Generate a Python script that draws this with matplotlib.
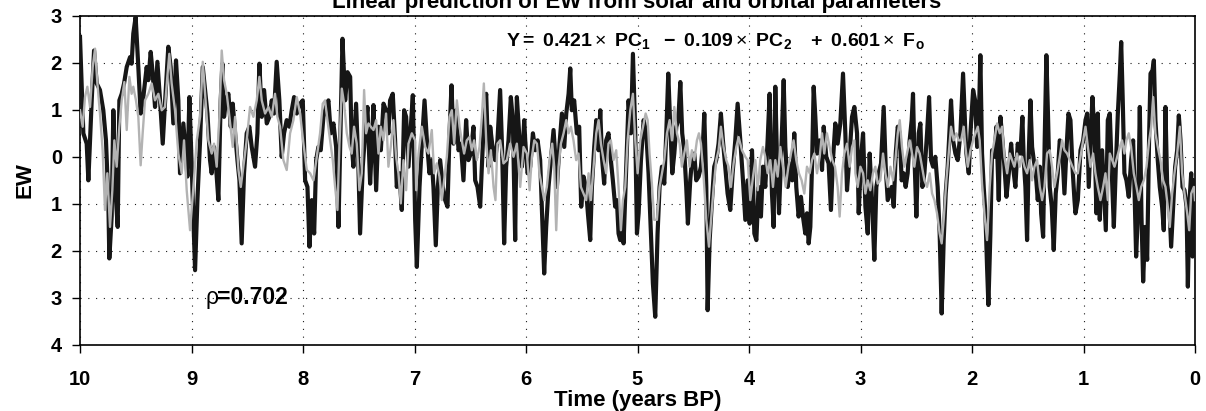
import matplotlib
matplotlib.use("Agg")
import matplotlib.pyplot as plt
import numpy as np

# ---------------- data ----------------
# observed EW (black)
t_black = [10.000, 9.970, 9.940, 9.925, 9.895, 9.874, 9.850, 9.821, 9.791, 9.767, 9.746, 9.737, 9.716, 9.701, 9.677, 9.662, 9.647, 9.626, 9.605, 9.581, 9.551, 9.537, 9.522, 9.501, 9.477, 9.456, 9.432, 9.402, 9.387, 9.366, 9.348, 9.327, 9.306, 9.282, 9.258, 9.238, 9.208, 9.187, 9.163, 9.139, 9.118, 9.103, 9.073, 9.049, 9.037, 9.019, 8.998, 8.968,
           8.947, 8.923, 8.899, 8.878, 8.857, 8.834, 8.819, 8.798, 8.780, 8.759, 8.738, 8.723, 8.708, 8.690, 8.669, 8.648, 8.630, 8.609, 8.588, 8.570, 8.550, 8.529, 8.505, 8.481, 8.460, 8.430, 8.409, 8.391, 8.370, 8.349, 8.325, 8.301, 8.280, 8.260, 8.236, 8.212, 8.191, 8.170, 8.146, 8.122, 8.101, 8.080, 8.056, 8.026, 8.002, 7.981,
           7.960, 7.942, 7.921, 7.900, 7.882, 7.862, 7.841, 7.817, 7.793, 7.772, 7.751, 7.727, 7.703, 7.682, 7.661, 7.646, 7.622, 7.601, 7.577, 7.563, 7.548, 7.524, 7.503, 7.488, 7.464, 7.443, 7.422, 7.398, 7.383, 7.368, 7.344, 7.323, 7.302, 7.278, 7.255, 7.234, 7.219, 7.195, 7.174, 7.159, 7.135, 7.114, 7.093, 7.075, 7.054, 7.033, 7.015,
           6.994, 6.979, 6.955, 6.934, 6.910, 6.889, 6.866, 6.845, 6.830, 6.809, 6.791, 6.770, 6.746, 6.725, 6.704, 6.686, 6.668, 6.650, 6.626, 6.605, 6.584, 6.561, 6.537, 6.516, 6.495, 6.471, 6.456, 6.435, 6.411, 6.396, 6.375, 6.357, 6.336, 6.321, 6.297, 6.277, 6.256, 6.232, 6.214, 6.196, 6.178, 6.157, 6.136, 6.118, 6.097, 6.082, 6.058, 6.037, 6.016,
           6.007, 5.986, 5.962, 5.938, 5.917, 5.896, 5.873, 5.858, 5.837, 5.819, 5.798, 5.777, 5.753, 5.735, 5.723, 5.699, 5.678, 5.657, 5.639, 5.618, 5.603, 5.589, 5.568, 5.544, 5.523, 5.505, 5.484, 5.463, 5.445, 5.424, 5.409, 5.388, 5.370, 5.349, 5.334, 5.319, 5.299, 5.281, 5.260, 5.239, 5.221, 5.200, 5.185, 5.170, 5.155, 5.140, 5.125, 5.101, 5.080, 5.059, 5.041,
           5.020, 5.005, 4.990, 4.969, 4.945, 4.921, 4.901, 4.880, 4.862, 4.841, 4.820, 4.802, 4.781, 4.760, 4.742, 4.724, 4.706, 4.688, 4.670, 4.652, 4.634, 4.616, 4.599, 4.581, 4.563, 4.548, 4.527, 4.509, 4.491, 4.473, 4.452, 4.431, 4.413, 4.401, 4.383, 4.371, 4.353, 4.332, 4.312, 4.294, 4.273, 4.252, 4.234, 4.213, 4.192, 4.168, 4.147, 4.123, 4.102, 4.078, 4.054, 4.033,
           4.012, 3.994, 3.973, 3.952, 3.934, 3.914, 3.893, 3.875, 3.854, 3.833, 3.815, 3.794, 3.779, 3.764, 3.749, 3.731, 3.713, 3.689, 3.674, 3.653, 3.629, 3.612, 3.594, 3.576, 3.555, 3.534, 3.516, 3.495, 3.480, 3.465, 3.450, 3.435, 3.420, 3.405, 3.390, 3.366, 3.345, 3.330, 3.307, 3.286, 3.265, 3.247, 3.226, 3.205, 3.181, 3.157, 3.136, 3.121, 3.097, 3.076, 3.055,
           3.031, 3.016, 2.995, 2.977, 2.956, 2.935, 2.918, 2.897, 2.876, 2.858, 2.837, 2.816, 2.792, 2.774, 2.756, 2.738, 2.720, 2.702, 2.684, 2.666, 2.648, 2.631, 2.613, 2.595, 2.577, 2.559, 2.541, 2.529, 2.517, 2.499, 2.478, 2.463, 2.445, 2.427, 2.403, 2.385, 2.367, 2.349, 2.329, 2.308, 2.290, 2.272, 2.254, 2.236, 2.218, 2.200, 2.188, 2.170, 2.149, 2.128, 2.104, 2.080, 2.059,
           2.050, 2.029, 2.014, 1.990, 1.972, 1.954, 1.940, 1.925, 1.910, 1.895, 1.880, 1.865, 1.853, 1.835, 1.820, 1.799, 1.781, 1.760, 1.745, 1.727, 1.709, 1.691, 1.670, 1.649, 1.632, 1.611, 1.590, 1.566, 1.548, 1.536, 1.521, 1.506, 1.491, 1.476, 1.461, 1.446, 1.428, 1.410, 1.392, 1.380, 1.362, 1.348, 1.333, 1.318, 1.303, 1.285, 1.267, 1.249, 1.231, 1.213, 1.192, 1.171, 1.153, 1.135, 1.117, 1.099, 1.081,
           1.072, 1.051, 1.027, 1.003, 0.982, 0.967, 0.953, 0.938, 0.920, 0.902, 0.884, 0.872, 0.854, 0.833, 0.818, 0.800, 0.782, 0.764, 0.746, 0.728, 0.710, 0.692, 0.674, 0.662, 0.648, 0.633, 0.615, 0.594, 0.573, 0.555, 0.543, 0.528, 0.510, 0.495, 0.480, 0.465, 0.447, 0.429, 0.411, 0.399, 0.381, 0.369, 0.355, 0.334, 0.316, 0.295, 0.280, 0.265, 0.250, 0.232, 0.214, 0.196, 0.178, 0.160, 0.145, 0.130, 0.112, 0.094, 0.076, 0.064, 0.049, 0.034, 0.022, 0.010, 0.000]
ew_black = [2.55, 0.50, 0.28, -0.50, 1.20, 2.26, 1.56, 1.42, 0.99, 0.35, -0.92, -2.16, -1.27, 0.99, -0.92, -1.49, 1.20, 1.34, 1.56, 1.91, 2.12, 1.98, 2.62, 2.97, 1.91, 0.92, 1.27, 1.91, 1.63, 2.23, 1.77, 1.06, 2.02, 1.20, 0.28, 1.13, 2.34, 1.91, 0.71, 2.05, 1.20, -0.35, 0.71, 0.00, -0.42, 1.27, -0.21, -2.41,
            -0.92, 0.35, 1.91, 1.42, 0.92, -0.07, -0.35, 0.21, -0.21, -0.92, 1.20, 1.98, 0.85, 1.20, 1.34, 0.64, 1.13, 0.50, -0.07, -0.50, -1.84, -0.35, 0.50, 0.64, 0.21, -0.21, 0.50, 1.98, 0.85, 1.42, 0.71, 0.85, 1.20, 0.92, 2.02, 1.20, 0.00, 0.50, 0.78, 0.64, 0.99, 1.27, 0.92, 1.13, 1.20, -0.50,
            -0.64, -1.91, -0.92, -1.63, -0.07, 0.21, 0.14, 0.85, 1.06, 1.20, 0.50, 0.71, 0.21, -1.49, 0.85, 2.51, 1.20, 1.80, 1.70, 0.28, -0.21, 1.13, -0.21, -1.63, -0.21, 0.50, 1.06, -0.57, 0.21, 1.10, -0.71, 0.64, 0.14, 1.13, 0.99, 0.50, 1.20, 1.34, 0.35, -0.64, -0.35, -1.13, 0.99, 0.85, -0.21, 0.64, 1.31,
            -1.34, -2.34, -0.64, 0.28, 1.20, 0.35, -0.35, -0.07, -0.64, -1.88, -0.64, -0.07, -0.64, -0.92, -1.06, 0.50, 1.52, 0.28, 0.99, 0.14, 0.28, -0.50, 0.78, -0.07, 0.07, 0.64, -0.50, -0.64, -1.06, -0.21, 0.92, 1.34, -0.21, 0.64, 0.14, -0.07, 0.35, 1.42, 0.14, -1.84, -0.21, 0.35, 1.27, 0.78, -1.77, 1.27, 0.35, -0.21, 0.78,
            0.35, -0.35, -0.21, 0.50, 0.14, 0.35, -0.07, -1.06, -2.48, -1.49, -0.64, -0.07, 0.57, -0.07, -0.64, 0.28, 0.92, 0.21, 0.92, 1.34, 1.88, 0.99, 1.20, 0.50, 0.64, -1.06, -0.42, -0.64, -1.20, -1.77, -0.64, 0.21, 0.78, 0.14, 0.99, 0.00, -0.57, 0.35, 0.50, -0.07, -0.50, -1.06, -0.92, -1.63, -1.77, -1.20, -1.84, -0.21, 1.20, 0.50, 2.19,
            0.50, -1.63, -1.20, -0.07, 0.78, 0.50, -0.35, -1.63, -2.69, -3.40, -1.63, -0.64, -0.21, -0.57, 0.50, 1.77, 0.64, -0.35, 0.07, 0.64, 0.78, 1.59, 0.50, 0.14, -0.64, -1.42, -0.50, 0.00, 0.07, -0.50, -0.42, -0.21, 0.28, 0.92, -0.64, -3.26, -1.77, -0.92, -0.21, -0.07, 0.28, 0.92, 0.35, -0.21, -0.78, -1.13, -0.35, 0.35, 1.13, 0.35, -0.50, -1.34,
            -0.50, -1.42, 0.14, -1.63, -1.77, -0.64, -1.27, -0.21, -0.64, 0.35, 1.34, -0.78, -1.49, 1.49, -0.07, -1.20, -0.07, 1.63, 0.21, -0.64, -0.14, -0.50, 0.50, -0.64, -1.27, -0.85, -1.27, -1.63, -1.20, -1.84, -1.49, -0.21, 1.49, 0.85, 0.07, 0.35, -0.28, 0.64, 0.00, -0.14, -1.13, -0.07, 0.71, 0.28, 0.71, 1.77, 0.50, -0.71, 0.07, 0.85, 1.06,
            0.50, -1.20, 0.00, 0.50, -1.06, -1.63, 0.07, -0.92, -2.19, -0.64, -0.35, -0.14, 1.06, -0.21, -0.92, -0.78, -0.64, -1.06, 0.07, 0.64, 0.50, -0.50, -0.35, -0.64, -0.35, 0.35, 0.78, 1.34, 0.07, -1.27, 0.50, 0.71, -0.64, -0.35, 0.50, 1.27, -0.07, -0.21, 0.00, -0.64, -1.63, -3.33, -1.77, -0.78, -0.21, 0.64, 1.20, 0.35, 0.07, -0.07, 0.50, 1.77, 0.50,
            0.07, -0.35, 0.50, 1.42, 1.20, 0.21, 0.64, 2.16, 0.07, -0.64, -1.20, -2.34, -3.15, -1.63, 0.14, 0.00, 0.64, -0.92, 0.85, 0.35, -0.21, -0.85, -0.35, 0.28, -0.21, -0.64, 0.28, 0.07, 0.85, -0.07, -0.64, -1.77, 0.07, 1.20, 0.21, -0.07, -0.35, -0.92, -0.21, -1.20, -1.70, 0.35, 2.16, 0.85, -0.64, -1.06, -1.98, -0.78, -0.35, 0.35, 0.21, -0.78, 0.14, 0.92, 0.78, -0.21, -0.92,
            -1.20, -0.92, 0.14, 0.35, 0.78, 0.92, -0.64, 0.21, 1.27, 0.50, -1.20, 0.92, -1.34, 0.14, -0.64, -1.56, 0.78, 0.92, -0.35, -1.49, -0.21, 0.92, 1.77, 2.44, 1.20, -0.35, -0.50, -0.85, -0.07, 0.35, -0.64, -2.12, -1.06, 1.06, -1.27, -2.65, -1.49, -2.19, 0.50, 1.77, 1.84, 2.05, 0.78, -0.07, -0.64, -1.06, -1.56, 1.06, -0.57, -0.92, -1.91, -1.06, -0.21, 0.14, 0.88, 0.35, -0.64, -0.71, -1.06, -2.76, -0.92, -0.35, -2.12, -0.50, -0.64]

# linear prediction (gray)
t_pred = [10.000, 9.976, 9.955, 9.934, 9.910, 9.886, 9.865, 9.844, 9.821, 9.797, 9.776, 9.755, 9.731, 9.710, 9.692, 9.671, 9.647, 9.626, 9.602, 9.581, 9.557, 9.537, 9.522, 9.498, 9.477, 9.456, 9.438, 9.417, 9.387, 9.357, 9.327, 9.297, 9.267, 9.238, 9.217, 9.199, 9.178, 9.148, 9.118, 9.088, 9.067, 9.043, 9.013, 8.983,
          8.953, 8.923, 8.899, 8.878, 8.849, 8.819, 8.798, 8.774, 8.750, 8.729, 8.708, 8.684, 8.660, 8.630, 8.609, 8.579, 8.558, 8.535, 8.505, 8.475, 8.445, 8.415, 8.391, 8.370, 8.340, 8.310, 8.280, 8.251, 8.230, 8.206, 8.176, 8.146, 8.116, 8.086, 8.056, 8.026, 7.996,
          7.966, 7.936, 7.906, 7.876, 7.847, 7.823, 7.802, 7.781, 7.757, 7.733, 7.712, 7.691, 7.673, 7.652, 7.631, 7.607, 7.583, 7.563, 7.542, 7.518, 7.494, 7.473, 7.452, 7.434, 7.413, 7.392, 7.368, 7.344, 7.323, 7.302, 7.278, 7.255, 7.234, 7.213, 7.189, 7.165, 7.144, 7.123, 7.099, 7.075, 7.054, 7.024, 6.994,
          6.985, 6.964, 6.934, 6.904, 6.875, 6.845, 6.824, 6.800, 6.776, 6.755, 6.731, 6.710, 6.686, 6.665, 6.644, 6.620, 6.596, 6.576, 6.555, 6.531, 6.507, 6.486, 6.465, 6.441, 6.417, 6.396, 6.378, 6.357, 6.336, 6.315, 6.291, 6.274, 6.256, 6.232, 6.202, 6.172, 6.142, 6.112, 6.082, 6.052, 6.022,
          5.992, 5.968, 5.947, 5.926, 5.902, 5.879, 5.858, 5.837, 5.813, 5.789, 5.765, 5.747, 5.729, 5.708, 5.687, 5.663, 5.639, 5.618, 5.597, 5.574, 5.550, 5.529, 5.508, 5.484, 5.460, 5.439, 5.418, 5.394, 5.370, 5.349, 5.328, 5.304, 5.281, 5.260, 5.239, 5.215, 5.191, 5.170, 5.149, 5.131, 5.110, 5.089, 5.065, 5.041, 5.020,
          4.999, 4.975, 4.951, 4.927, 4.909, 4.892, 4.871, 4.850, 4.826, 4.802, 4.781, 4.760, 4.736, 4.712, 4.691, 4.670, 4.646, 4.622, 4.602, 4.581, 4.557, 4.533, 4.512, 4.491, 4.467, 4.449, 4.431, 4.407, 4.383, 4.359, 4.338, 4.317, 4.294, 4.273, 4.252, 4.228, 4.204, 4.183, 4.162, 4.138, 4.114, 4.093, 4.063, 4.033,
          4.012, 3.988, 3.964, 3.943, 3.922, 3.899, 3.875, 3.854, 3.833, 3.809, 3.785, 3.764, 3.743, 3.719, 3.695, 3.671, 3.647, 3.623, 3.600, 3.576, 3.552, 3.528, 3.504, 3.480, 3.456, 3.435, 3.414, 3.390, 3.366, 3.345, 3.325, 3.301, 3.277, 3.253, 3.229, 3.205, 3.187, 3.166, 3.145, 3.121, 3.097, 3.076, 3.055,
          3.046, 3.025, 3.001, 2.977, 2.956, 2.935, 2.912, 2.888, 2.867, 2.846, 2.822, 2.798, 2.777, 2.756, 2.732, 2.708, 2.687, 2.666, 2.648, 2.628, 2.607, 2.583, 2.559, 2.538, 2.517, 2.493, 2.469, 2.448, 2.427, 2.403, 2.379, 2.358, 2.337, 2.314, 2.290, 2.272, 2.254, 2.230, 2.209, 2.188, 2.164, 2.140, 2.119, 2.098, 2.074,
          2.059, 2.038, 2.014, 1.990, 1.969, 1.948, 1.931, 1.910, 1.889, 1.865, 1.841, 1.820, 1.799, 1.775, 1.751, 1.730, 1.709, 1.685, 1.661, 1.640, 1.620, 1.596, 1.572, 1.551, 1.530, 1.506, 1.482, 1.461, 1.440, 1.416, 1.392, 1.371, 1.350, 1.327, 1.303, 1.282, 1.261, 1.237, 1.213, 1.192, 1.171, 1.147, 1.123, 1.099, 1.072,
          1.051, 1.027, 1.003, 0.982, 0.961, 0.938, 0.914, 0.893, 0.872, 0.848, 0.824, 0.803, 0.782, 0.764, 0.743, 0.722, 0.698, 0.674, 0.654, 0.633, 0.615, 0.594, 0.573, 0.549, 0.525, 0.504, 0.483, 0.459, 0.435, 0.411, 0.393, 0.375, 0.355, 0.334, 0.310, 0.286, 0.265, 0.244, 0.226, 0.205, 0.184, 0.160, 0.136, 0.115, 0.094, 0.070, 0.052, 0.034, 0.010, 0.000]
ew_pred = [0.99, 0.64, 1.27, 1.49, 1.06, 1.91, 2.30, 1.56, 0.92, 0.14, -1.13, -0.35, -1.49, -0.71, 0.35, -0.21, 0.64, 1.20, 1.59, 0.57, 1.70, 1.34, 1.49, 1.20, 0.85, -0.18, 0.50, 1.20, 1.34, 1.56, 1.20, 1.34, 0.99, 1.06, 1.70, 2.19, 1.56, 0.99, 0.07, -0.35, 0.35, -0.71, -1.56, -0.64,
           0.35, 0.85, 2.02, 1.34, 0.35, 0.07, 0.28, -0.21, 0.85, 2.26, 1.63, 1.34, 0.85, 0.21, 0.85, -0.28, -0.64, -0.21, 0.35, 1.06, 0.85, 1.20, 1.70, 1.20, 0.92, 1.06, 0.85, 1.34, 0.85, 0.64, -0.07, -0.28, 0.50, 0.78, 1.27, 0.92, 0.28,
           -0.28, -0.35, -0.50, 0.00, 0.50, 1.13, 1.20, 0.78, 0.35, -0.07, -0.64, -1.13, 0.28, 1.45, 1.13, 0.50, 0.21, 0.07, 0.64, 0.28, -0.71, -0.35, 1.42, 0.50, 0.71, 0.64, 0.57, 0.78, 0.07, 0.64, 0.35, 0.92, -0.21, 0.21, 0.78, 0.00, -0.35, -0.99, -0.07, -0.71, 0.28, 0.50, 0.35,
           -0.71, 0.07, 0.64, 0.21, 0.07, 0.57, -0.35, -0.14, -0.42, -0.92, -0.42, 0.00, 0.85, 0.99, 0.28, 1.20, 0.64, 0.35, 0.07, 0.35, 0.42, 0.14, 0.35, -0.07, 0.21, 0.85, 1.56, 0.35, -0.35, 0.14, -0.64, -0.92, 0.28, 0.35, -0.14, -0.07, 0.28, 0.00, 0.28, -0.64, 0.21,
           0.07, -0.71, 0.00, 0.35, 0.28, -0.35, -0.64, -0.92, -0.64, -0.07, 0.28, -0.21, -1.56, -0.21, 0.28, 0.50, 0.78, 0.50, 0.64, 0.35, -0.07, 0.07, -0.64, -0.78, -0.92, -0.35, -0.92, -0.21, 0.50, 0.78, 0.28, -0.07, -0.35, 0.28, 0.35, -0.07, 0.14, -0.64, -1.56, -0.92, -0.64, 0.35, 0.99, 1.34, 0.35,
           -0.35, 0.35, 0.64, 0.92, 0.78, 0.07, -0.57, -1.34, -1.34, -0.64, -0.35, -0.07, 0.50, 0.78, 0.35, 1.06, 0.50, 0.28, -0.21, 0.07, 0.35, -0.21, 0.14, -0.07, 0.35, 0.50, 0.28, -0.42, -1.34, -1.91, -1.27, -0.64, -0.07, 0.14, 0.64, 0.21, -0.07, -0.21, -0.64, -0.14, 0.21, 0.42, 0.14, 0.00,
           -0.07, -0.92, -0.42, -0.07, -0.71, -0.07, 0.21, 0.00, -0.35, -0.07, -0.64, -0.07, -0.42, 0.21, -0.21, -0.64, -0.21, 0.07, 0.35, -0.07, -0.35, -0.50, -0.78, -0.21, -0.35, -0.07, 0.07, -0.35, 0.00, 0.50, 0.07, 0.50, 0.21, -0.07, -0.21, -0.64, -1.27, -0.35, 0.07, 0.28, -0.21, 0.21, 0.35,
           -0.35, -0.64, -0.21, -0.35, -0.78, -0.50, -0.71, -0.35, -0.21, -0.57, -0.50, 0.07, -0.35, -0.64, -0.21, -0.50, -0.07, 0.50, 0.78, 0.21, -0.21, 0.07, 0.35, 0.07, -0.21, 0.21, 0.07, -0.21, -0.50, -0.64, -0.35, -0.78, -0.92, -1.20, -1.63, -1.84, -1.34, -0.50, 0.07, 0.64, 0.35, 0.50, 0.35, 0.35, 0.64,
           0.21, -0.21, 0.14, 0.35, 0.50, 0.64, 0.35, -0.57, -1.20, -1.77, -0.64, 0.07, 0.35, 0.71, 0.50, 0.64, 0.00, -0.35, 0.07, -0.07, -0.21, 0.07, -0.21, 0.00, -0.21, -0.35, -0.07, -0.50, -0.21, -0.07, -0.64, -0.92, -0.64, 0.07, 0.14, -0.21, -0.64, -0.35, 0.00, 0.35, 0.14, 0.07, -0.07, -0.21, -0.35,
           -0.35, 0.00, 0.35, 0.64, 0.21, -0.21, 0.07, -0.35, -0.64, -0.92, -0.64, -0.35, -0.92, 0.07, -0.07, -0.21, 0.00, 0.21, 0.35, 0.07, 0.35, 0.50, 0.21, -0.35, -0.64, -0.92, -0.64, -0.50, -0.21, 0.35, 0.64, 1.27, 0.50, 0.21, -0.07, -0.50, -0.64, -1.06, -1.49, -0.78, -0.35, 0.07, 0.64, -0.35, -0.78, -1.20, -1.56, -0.78, -0.64, -0.92]

x_ticks = [10, 9, 8, 7, 6, 5, 4, 3, 2, 1, 0]
y_ticks = [-4, -3, -2, -1, 0, 1, 2, 3]
y_tick_labels = ["4", "3", "2", "1", "0", "1", "2", "3"]

title = "Linear prediction of EW from solar and orbital parameters"
equation = (r"$\mathbf{Y=\ 0.421}\times\ \mathbf{PC_1\ \ -\ 0.109}\times\ "
            r"\mathbf{PC_2\ \ \ +\ 0.601}\times\ \mathbf{F_o}$")
rho_value = "=0.702"

assert len(t_black) == len(ew_black)
assert len(t_pred) == len(ew_pred)

# ---------------- styling ----------------
FONT = "Liberation Sans"
plt.rcParams["font.family"] = [FONT, "DejaVu Sans"]
plt.rcParams["mathtext.fontset"] = "custom"
plt.rcParams["mathtext.rm"] = FONT
plt.rcParams["mathtext.bf"] = FONT + ":bold"
plt.rcParams["mathtext.it"] = FONT + ":italic"

fig = plt.figure(figsize=(12.06, 4.11), dpi=100)
W, H = 1206, 411
ax = fig.add_axes([80 / W, 1 - 345 / H, (1195 - 80) / W, (345 - 15.7) / H])

ax.plot(t_black, ew_black, color="#161616", lw=3.0, solid_joinstyle="round", zorder=3)
ax.plot(t_pred, ew_pred, color="#b3b3b3", lw=1.7, solid_joinstyle="round", zorder=4)

ax.set_xlim(10, 0)
ax.set_ylim(-4, 3)
ax.set_xticks(x_ticks)
ax.set_xticklabels([str(v) for v in x_ticks])
ax.set_yticks(y_ticks)
ax.set_yticklabels(y_tick_labels)
ax.tick_params(direction="out", length=6, width=1.0, labelsize=14.5)
ax.tick_params(axis="x", pad=12)
ax.tick_params(axis="y", pad=7)
for lab in ax.get_xticklabels() + ax.get_yticklabels():
    lab.set_fontweight("bold")
ax.grid(True, linestyle=(0, (1, 6)), color="k", lw=0.8, alpha=0.9)
for s in ax.spines.values():
    s.set_linewidth(1.2)

ax.set_xlabel("Time (years BP)", fontsize=16, fontweight="bold", labelpad=1)
ax.set_ylabel("EW", fontsize=16, fontweight="bold", labelpad=11)

fig.text(0.528, 1 - 8 / H, title, ha="center", va="baseline", fontsize=16, fontweight="bold")
ax.text(6.18, 2.35, equation, ha="left", va="baseline", fontsize=14, zorder=6)
ax.text(8.878, -3.0, "\u03c1", ha="left", va="center", fontsize=16.5, zorder=6)
ax.text(8.775, -3.0, rho_value, ha="left", va="center", fontsize=16.5, fontweight="bold", zorder=6)

fig.savefig("out.png", dpi=100)
